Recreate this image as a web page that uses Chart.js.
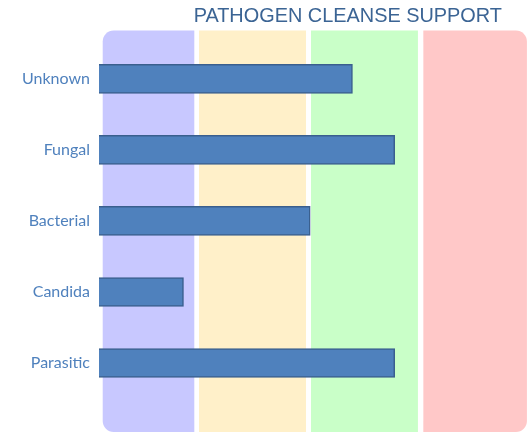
<!DOCTYPE html>
<html>
<head>
<meta charset="utf-8">
<script src="https://cdn.jsdelivr.net/npm/chart.js@4"></script>
<style>
html,body{margin:0;padding:0;background:#fff;}
canvas{display:block;}
</style>
</head>
<body>
<canvas id="c" width="527" height="432"></canvas>
<script>
const categories = ['Unknown', 'Fungal', 'Bacterial', 'Candida', 'Parasitic'];
const values = [60, 70, 50, 20, 70];
const zoneStarts = [0.88, 23.67, 50.19, 76.78];
const zoneEnds = [22.56, 49.0, 75.5, 101.3];
const zoneColors = ['#c8c8ff', '#fff0c9', '#c9ffc8', '#ffc8c8'];
const zoneTopIndex = -0.68;
const zoneBottomIndex = 4.97;
const titleText = 'PATHOGEN CLEANSE SUPPORT';

const zonesPlugin = {
  id: 'zones',
  beforeDatasetsDraw(chart) {
    const ctx = chart.ctx;
    const xs = chart.scales.x, ys = chart.scales.y;
    const top = ys.getPixelForValue(zoneTopIndex);
    const bottom = ys.getPixelForValue(zoneBottomIndex);
    ctx.save();
    for (let i = 0; i < zoneStarts.length; i++) {
      const l = xs.getPixelForValue(zoneStarts[i]);
      const r = xs.getPixelForValue(zoneEnds[i]);
      const rad = 11;
      let radii = [0, 0, 0, 0];
      if (i === 0) radii = [rad, 0, 0, rad];
      if (i === zoneStarts.length - 1) radii = [0, rad, rad, 0];
      ctx.fillStyle = zoneColors[i];
      ctx.beginPath();
      ctx.roundRect(l, top, r - l, bottom - top, radii);
      ctx.fill();
    }
    ctx.restore();
  }
};

new Chart(document.getElementById('c'), {
  type: 'bar',
  data: {
    labels: categories,
    datasets: [{
      data: values,
      backgroundColor: '#4f81bd',
      borderColor: '#3a5f8e',
      borderWidth: 1.5,
      barThickness: 29
    }]
  },
  options: {
    indexAxis: 'y',
    responsive: false,
    animation: false,
    layout: { padding: { left: 0, right: 25, top: 0, bottom: 33.5 } },
    plugins: {
      legend: { display: false },
      tooltip: { enabled: false },
      title: {
        display: true,
        text: titleText,
        align: 'end',
        color: '#3b6494',
        font: { family: 'Liberation Sans', size: 19.9, weight: 'normal' },
        padding: { top: 5, bottom: 14.5 }
      }
    },
    scales: {
      x: {
        display: false,
        min: 0,
        max: 95.4,
        grid: { display: false }
      },
      y: {
        grid: { display: false, drawTicks: false },
        border: { display: false },
        ticks: {
          color: '#4f81bd',
          padding: 9,
          font: { family: 'Lato', size: 16 }
        },
        afterFit(s) { s.width = 99; }
      }
    }
  },
  plugins: [zonesPlugin]
});
</script>
</body>
</html>
